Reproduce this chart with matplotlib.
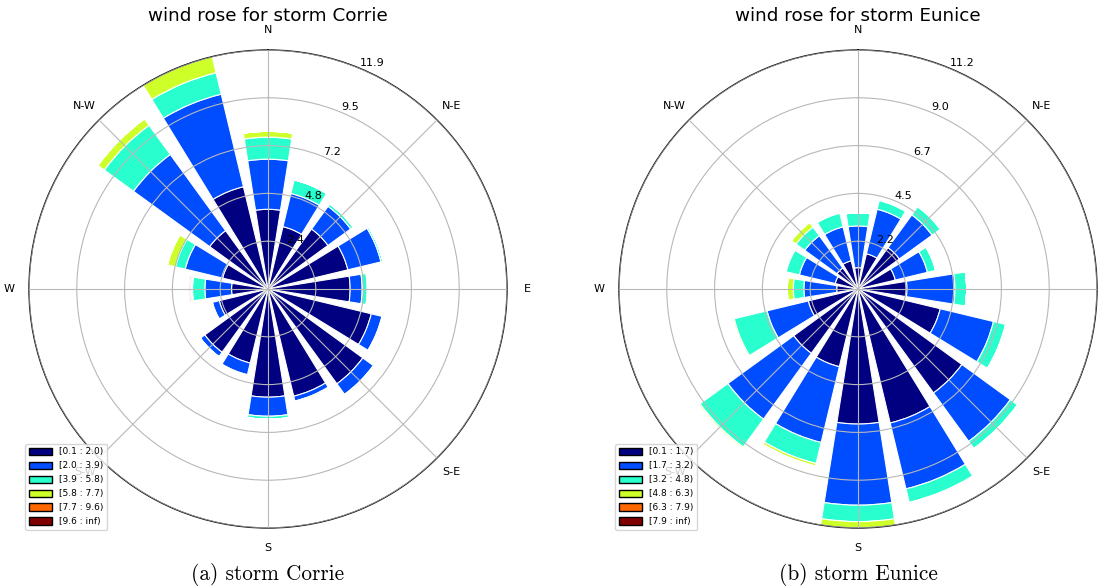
import numpy as np
import matplotlib.pyplot as plt
import matplotlib.patches as mpatches

# 16 sectors, clockwise from north
directions = ['N', 'NNE', 'NE', 'ENE', 'E', 'ESE', 'SE', 'SSE',
              'S', 'SSW', 'SW', 'WSW', 'W', 'WNW', 'NW', 'NNW']
compass_labels = ['N', 'N-E', 'E', 'S-E', 'S', 'S-W', 'W', 'N-W']

# storm Corrie: frequency (%) per speed bin and direction
corrie_bins = [0.1, 2.0, 3.9, 5.8, 7.7, 9.6]
corrie_b1 = [3.98, 3.2, 3.7, 4.1, 4.1, 5.3, 5.85, 5.5, 5.4, 3.8, 3.9, 2.5, 1.82, 2.33, 3.6, 5.25]
corrie_b2 = [2.5, 1.7, 1.4, 1.7, 0.6, 0.55, 0.65, 0.25, 0.95, 0.6, 0.27, 0.35, 1.33, 1.92, 4.7, 4.75]
corrie_b3 = [1.1, 0.7, 0.15, 0.1, 0.25, 0.03, 0.03, 0.03, 0.15, 0.05, 0.0, 0.05, 0.62, 0.5, 1.8, 1.1]
corrie_b4 = [0.29, 0.0, 0.0, 0.0, 0.05, 0.05, 0.07, 0.07, 0.0, 0.0, 0.02, 0.07, 0.05, 0.41, 0.4, 0.83]
corrie_b5 = [0, 0, 0, 0, 0, 0, 0, 0, 0, 0, 0, 0, 0.06, 0, 0, 0]
corrie_b6 = [0, 0, 0, 0, 0, 0, 0, 0, 0, 0, 0, 0, 0.06, 0, 0, 0]

# storm Eunice
eunice_bins = [0.1, 1.7, 3.2, 4.8, 6.3, 7.9]
eunice_b1 = [1.0, 1.7, 2.4, 1.8, 2.3, 3.97, 6.03, 6.47, 6.34, 3.75, 3.73, 2.4, 1.0, 1.1, 1.22, 1.36]
eunice_b2 = [1.96, 2.15, 1.9, 1.55, 2.25, 2.57, 2.81, 3.18, 3.81, 3.66, 3.82, 1.99, 1.54, 1.73, 1.87, 1.64]
eunice_b3 = [0.62, 0.42, 0.47, 0.4, 0.55, 0.58, 0.41, 0.65, 0.77, 1.01, 1.62, 1.59, 0.5, 0.64, 0.5, 0.66]
eunice_b4 = [0.0, 0.05, 0.03, 0.0, 0.0, 0.03, 0.05, 0.05, 0.3, 0.13, 0.08, 0.07, 0.28, 0.03, 0.27, 0.03]
eunice_b5 = [0, 0, 0.05, 0, 0, 0, 0, 0, 0, 0, 0, 0, 0, 0, 0, 0.05]
eunice_b6 = [0, 0, 0.02, 0, 0, 0, 0, 0, 0, 0, 0, 0, 0, 0, 0, 0.04]

colors = plt.cm.jet(np.linspace(0, 1, 6))


def draw_rose(ax, bins, table, title):
    theta = np.deg2rad(np.arange(len(directions)) * 22.5)
    width = np.deg2rad(22.5) * 0.8
    bottom = np.zeros(len(directions))
    handles = []
    for i, vals in enumerate(table):
        vals = np.array(vals, dtype=float)
        ax.bar(theta, vals, width=width, bottom=bottom, color=colors[i],
               edgecolor='white', linewidth=0.8, zorder=1)
        bottom = bottom + vals
        if i < len(bins) - 1:
            lab = '[%.1f : %0.1f)' % (bins[i], bins[i + 1])
        else:
            lab = '[%.1f : inf)' % bins[i]
        handles.append(mpatches.Patch(facecolor=colors[i], edgecolor='black', label=lab))

    ax.set_theta_zero_location('N')
    ax.set_theta_direction(-1)
    rmax = bottom.max()
    ax.set_ylim(0, rmax)
    radii = np.linspace(0, rmax, 6)[1:]
    ax.set_rgrids(radii, ['%.1f' % r for r in radii], angle=22.5, fontsize=8)
    ax.set_thetagrids(np.arange(0, 360, 45), compass_labels, fontsize=8)
    ax.tick_params(axis='x', pad=4)
    ax.grid(True, color='#b8b8b8', linewidth=0.8)
    ax.set_axisbelow(False)
    ax.spines['polar'].set_color('#111111')
    ax.spines['polar'].set_linewidth(1.0)
    ax.set_title(title, fontsize=13.2, pad=-1.5)
    ax.legend(handles=handles, loc='lower left', bbox_to_anchor=(-0.008, -0.004),
              borderaxespad=0, fontsize=6.5, handlelength=2.6, handleheight=0.9,
              labelspacing=0.55)


fig = plt.figure(figsize=(11.1, 5.87), dpi=100)
ax1 = fig.add_axes([29 / 1110, 59 / 587, 478 / 1110, 478 / 587], projection='polar')
ax2 = fig.add_axes([619 / 1110, 59 / 587, 478 / 1110, 478 / 587], projection='polar')

draw_rose(ax1, corrie_bins,
          [corrie_b1, corrie_b2, corrie_b3, corrie_b4, corrie_b5, corrie_b6],
          'wind rose for storm Corrie')
draw_rose(ax2, eunice_bins,
          [eunice_b1, eunice_b2, eunice_b3, eunice_b4, eunice_b5, eunice_b6],
          'wind rose for storm Eunice')

fig.text(268 / 1110, 1 - 575 / 587, '(a) storm Corrie', ha='center', va='center',
         family='cmr10', fontsize=15.3)
fig.text(858 / 1110, 1 - 575 / 587, '(b) storm Eunice', ha='center', va='center',
         family='cmr10', fontsize=15.3)

fig.savefig('out.png', dpi=100)
